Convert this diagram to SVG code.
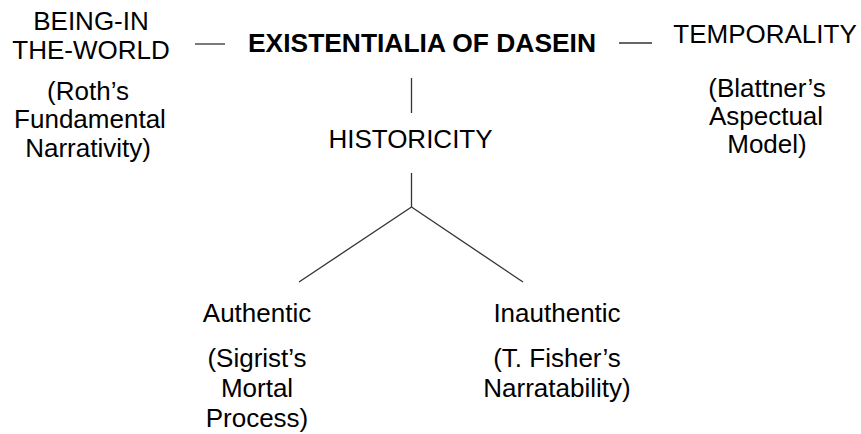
<svg xmlns="http://www.w3.org/2000/svg" width="861" height="434" viewBox="0 0 861 434">
<style>
  text { font-family: "Liberation Sans", Arial, sans-serif; font-size: 26px; fill: #000; text-anchor: middle; }
  .b { font-weight: bold; font-size: 26.4px; }
  .c line { stroke: #333; stroke-width: 1.3; fill: none; }
</style>
<rect width="861" height="434" fill="#fff"/>
<g class="c" id="connectors">
  <line x1="195" y1="44" x2="225" y2="44"/>
  <line x1="619" y1="43" x2="652" y2="43"/>
  <line x1="411.5" y1="78" x2="411.5" y2="113"/>
  <line x1="411.5" y1="173" x2="411.5" y2="207"/>
  <line x1="411.5" y1="207" x2="299" y2="282"/>
  <line x1="411.5" y1="207" x2="523" y2="282"/>
</g>
<g id="existentialia"><text class="b" x="422" y="52">EXISTENTIALIA OF DASEIN</text></g>
<g id="being-in-the-world">
  <text x="91" y="30">BEING-IN</text>
  <text x="91" y="59">THE-WORLD</text>
  <text x="88" y="100">(Roth’s</text>
  <text x="90" y="128">Fundamental</text>
  <text x="88" y="157">Narrativity)</text>
</g>
<g id="temporality">
  <text x="765" y="43">TEMPORALITY</text>
  <text x="767" y="97">(Blattner’s</text>
  <text x="766" y="125">Aspectual</text>
  <text x="767" y="153">Model)</text>
</g>
<g id="historicity"><text x="410.5" y="148">HISTORICITY</text></g>
<g id="authentic">
  <text x="257" y="322">Authentic</text>
  <text x="257" y="367">(Sigrist’s</text>
  <text x="257" y="397">Mortal</text>
  <text x="257" y="427">Process)</text>
</g>
<g id="inauthentic">
  <text x="557" y="322">Inauthentic</text>
  <text x="557" y="367">(T. Fisher’s</text>
  <text x="557" y="397">Narratability)</text>
</g>
</svg>
